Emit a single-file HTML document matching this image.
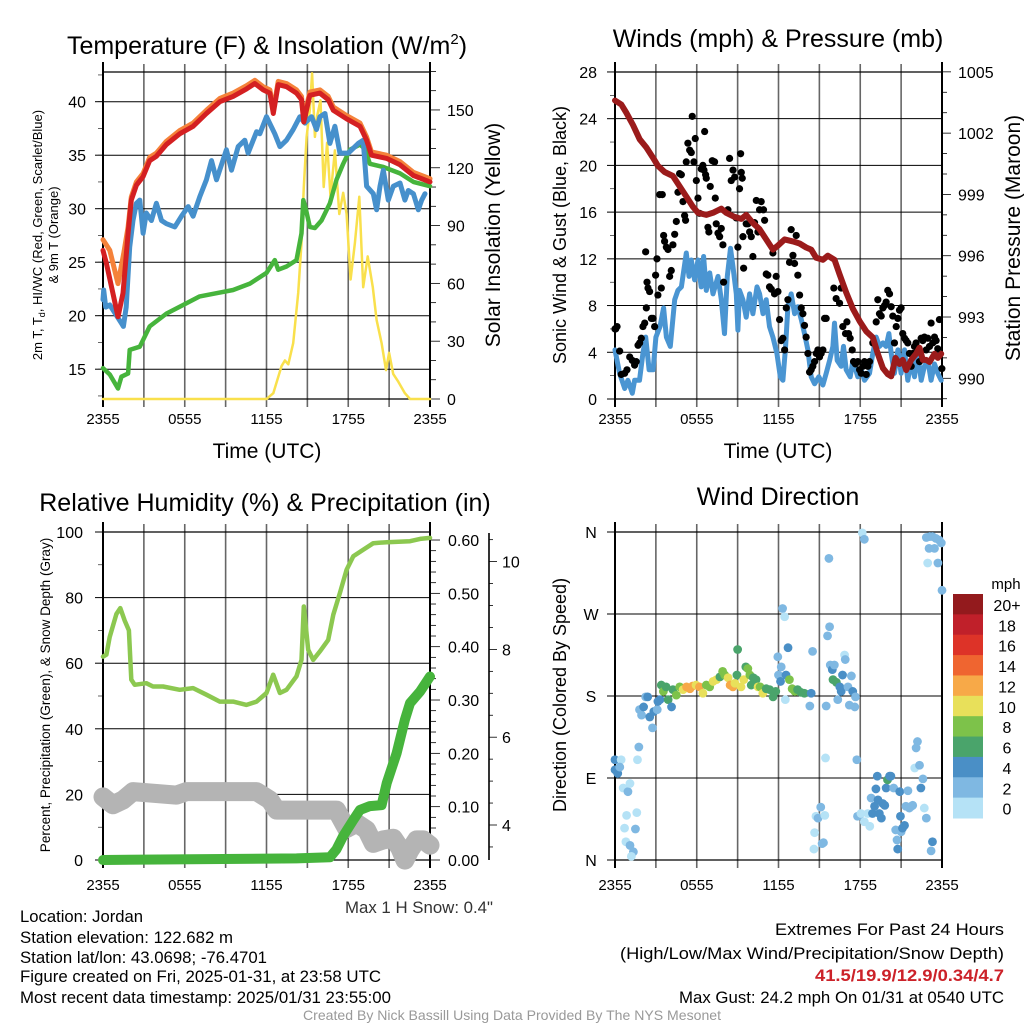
<!DOCTYPE html>
<html><head><meta charset="utf-8"><style>
html,body{margin:0;padding:0;background:#fff}
svg{display:block;font-family:"Liberation Sans",Arial,sans-serif}
</style></head><body>
<svg id="root" width="1024" height="1024" viewBox="0 0 1024 1024" xmlns="http://www.w3.org/2000/svg">
<rect width="1024" height="1024" fill="#fff"/>
<text x="267" y="54" font-size="25" text-anchor="middle">Temperature (F) &amp; Insolation (W/m<tspan font-size="15" dy="-10">2</tspan><tspan dy="10">)</tspan></text>
<text x="778" y="47" font-size="25" text-anchor="middle">Winds (mph) &amp; Pressure (mb)</text>
<text x="265" y="511" font-size="25" text-anchor="middle">Relative Humidity (%) &amp; Precipitation (in)</text>
<text x="778" y="505" font-size="25" text-anchor="middle">Wind Direction</text>
<text x="267" y="458" font-size="21" text-anchor="middle">Time (UTC)</text>
<text x="778" y="458" font-size="21" text-anchor="middle">Time (UTC)</text>
<text transform="translate(42,235) rotate(-90)" font-size="13" text-anchor="middle">2m T, T<tspan font-size="9" dy="3">d</tspan><tspan dy="-3">, HI/WC (Red, Green, Scarlet/Blue)</tspan></text>
<text transform="translate(58,235) rotate(-90)" font-size="13" text-anchor="middle">&amp; 9m T (Orange)</text>
<text transform="translate(500,235) rotate(-90)" font-size="21" text-anchor="middle">Solar Insolation (Yellow)</text>
<text transform="translate(566,235) rotate(-90)" font-size="18" text-anchor="middle">Sonic Wind &amp; Gust (Blue, Black)</text>
<text transform="translate(1020,238) rotate(-90)" font-size="21" text-anchor="middle">Station Pressure (Maroon)</text>
<text transform="translate(50,695) rotate(-90)" font-size="13.5" text-anchor="middle">Percent, Precipitation (Green), &amp; Snow Depth (Gray)</text>
<text transform="translate(566,695) rotate(-90)" font-size="18" text-anchor="middle">Direction (Colored By Speed)</text>
<g font-size="17">
<text x="345" y="913" textLength="148" lengthAdjust="spacingAndGlyphs" fill="#333">Max 1 H Snow: 0.4"</text>
<text x="20" y="922" textLength="123" lengthAdjust="spacingAndGlyphs">Location: Jordan</text>
<text x="20" y="943" textLength="213" lengthAdjust="spacingAndGlyphs">Station elevation: 122.682 m</text>
<text x="20" y="963" textLength="247" lengthAdjust="spacingAndGlyphs">Station lat/lon: 43.0698; -76.4701</text>
<text x="20" y="982" textLength="361" lengthAdjust="spacingAndGlyphs">Figure created on Fri, 2025-01-31, at 23:58 UTC</text>
<text x="20" y="1003" textLength="371" lengthAdjust="spacingAndGlyphs">Most recent data timestamp: 2025/01/31 23:55:00</text>
<text x="775" y="935" textLength="229" lengthAdjust="spacingAndGlyphs">Extremes For Past 24 Hours</text>
<text x="620" y="959" textLength="384" lengthAdjust="spacingAndGlyphs">(High/Low/Max Wind/Precipitation/Snow Depth)</text>
<text x="815" y="981" textLength="189" lengthAdjust="spacingAndGlyphs" fill="#cc2229" font-weight="bold">41.5/19.9/12.9/0.34/4.7</text>
<text x="679" y="1003" textLength="325" lengthAdjust="spacingAndGlyphs">Max Gust: 24.2 mph On 01/31 at 0540 UTC</text>
<text x="303" y="1020" font-size="14" textLength="418" lengthAdjust="spacingAndGlyphs" fill="#999">Created By Nick Bassill Using Data Provided By The NYS Mesonet</text>
</g>
<g id="layer"></g>
</svg>
<script>
// ---------- data ----------
const xTickLabels=["2355","0555","1155","1755","2355"];
const tempTicks=[15,20,25,30,35,40];
const solarTicks=[0,30,60,90,120,150];
const windTicks=[0,4,8,12,16,20,24,28];
const presTicks=[990,993,996,999,1002,1005];
const rhTicks=[0,20,40,60,80,100];
const precipTicks=[0.00,0.10,0.20,0.30,0.40,0.50,0.60];
const snowTicks=[4,6,8,10];
const dirTicks=["N","E","S","W","N"];
const dirTickDeg=[0,90,180,270,360];
const speedBins=["0","2","4","6","8","10","12","14","16","18","20+"];
const binColors=["#b5e2f6","#7fb8e2","#4a8fc6","#4aa46b","#7dc24a","#e8e05a","#f7a948","#ef6530","#dd3328","#c0202a","#931a1d"];

const redT=[0,0.25,0.73,1.1,1.47,1.84,2.08,2.45,2.94,3.43,3.92,4.65,5.63,6.61,7.59,8.57,9.55,10.53,11.14,11.76,12.25,12.5,12.86,13.47,14.2,14.57,14.74,15.18,15.92,16.53,16.9,17.88,18.86,19.35,19.71,20.82,21.8,22.78,24];
const redV=[26.1,24.9,22.1,19.9,22.1,27.7,30.8,32.2,33,34.5,34.9,36,37,37.7,38.9,40,40.5,41.2,41.7,41.1,40.8,38.9,41.6,41.4,40.8,40.2,38.1,40.6,40.8,40.2,39.2,38.4,37.7,36.4,35,34.7,34.1,33.1,32.5];
const orangeT=[0,0.5,1.1,1.52,1.84,2.08,2.45,2.94,3.43,3.92,4.65,5.63,6.61,7.59,8.57,9.55,10.53,11.14,11.76,12.25,12.5,12.86,13.47,14.2,14.57,14.74,15.18,15.92,16.53,16.9,17.88,18.86,19.35,19.71,20.82,21.8,22.78,24];
const orangeV=[27.1,26.1,23,25.8,28.3,31.1,32.5,33.3,34.8,35.2,36.3,37.3,38,39.2,40.3,40.8,41.5,42,41.4,41.1,39.2,41.9,41.7,41.1,40.5,38.4,40.9,41.1,40.5,39.5,38.7,38,36.7,35.3,35,34.4,33.4,32.8];
const blueT=[0,0.05,0.2,0.5,1.35,1.5,1.7,1.96,2.2,2.45,2.7,2.94,3.18,3.55,3.92,4.29,4.65,5.27,5.76,6.25,6.61,7.1,7.59,7.96,8.33,9.06,9.43,9.92,10.41,10.65,11.27,11.51,12,12.61,12.98,13.47,13.96,14.45,14.82,15.31,15.67,15.92,16.29,16.65,17.02,17.39,18,18.74,19.1,19.35,19.84,20.08,20.33,20.57,20.94,21.31,21.8,22.16,22.41,22.78,23.14,23.39,23.63];
const blueV=[21.5,22.4,20.8,21,19.3,19,20.8,26.4,28.9,30.5,30.8,27.7,29.6,28.9,30.5,28.9,28.6,28.3,29.3,30.2,29.3,31.1,32.7,34.5,32.7,35.5,33.6,35.8,36.4,35.2,37.2,37,38.6,37,35.8,36.4,37.4,38.6,38,38.6,37.4,38.6,38.9,36.1,37.7,35.2,35.2,36.1,36.4,32.1,31.4,29.9,32.1,33.6,30.8,32.1,32.4,30.8,31.7,31.4,29.9,30.8,31.4];
const greenT=[0,0.5,1.1,1.35,1.84,1.96,2.7,3.43,4.65,5.88,7.1,8.33,9.55,10.78,12,12.61,12.86,13.47,14.2,14.57,14.7,14.9,15.18,15.55,16.04,16.65,17.14,17.63,18.12,18.86,19.22,19.59,20.57,21.8,22.78,24];
const greenV=[15.1,14.5,13.2,14.3,14.6,16.8,17.1,19,20.2,21,21.8,22.1,22.4,23,24,25.2,24.3,24.6,25.2,27.7,30.8,29.9,28.3,28.2,28.9,30.5,32.7,34.2,35.5,36,35.6,34.2,33.9,33.3,32.5,32.1];
const solarT=[0,12,12.5,13.1,13.35,13.6,13.96,14.33,14.57,14.74,14.94,15.18,15.35,15.55,15.72,15.96,16.2,16.45,16.7,17.02,17.34,17.63,17.88,18.17,18.49,18.81,19.1,19.43,19.8,20.08,20.45,20.77,21.0,21.3,21.67,22.16,22.53,24];
const solarV=[0,0,3,17,20,18,29,55,81,110,136,150,169,136,147,155,110,133,105,129,96,107,96,62,81,105,58,74,58,41,29,15,24,13,9,3,0,0];

const windT=[0,0.34,0.71,0.95,1.27,1.44,1.8,2.05,2.25,2.5,2.8,3.0,3.3,3.57,3.77,4.06,4.38,4.62,4.87,5.23,5.43,5.6,5.84,6.09,6.33,6.5,6.7,6.95,7.19,7.56,7.8,8.04,8.24,8.48,8.66,8.9,9.02,9.14,9.39,9.63,9.88,10.12,10.42,10.61,10.86,11.1,11.34,11.59,11.88,12.13,12.32,12.52,12.69,12.93,13.18,13.42,13.67,13.91,14.16,14.4,14.65,14.96,15.26,15.5,15.75,15.99,16.11,16.31,16.6,16.77,16.97,17.26,17.46,17.82,18.07,18.31,18.68,18.92,19.17,19.41,19.66,19.9,20.1,20.27,20.51,20.76,21,21.25,21.49,21.74,21.98,22.22,22.47,22.71,22.96,23.2,23.45,23.69,23.94];
const windV=[4.2,2.2,0.9,1.6,0.5,1.6,1.6,3.9,5.3,2.5,2.5,5.3,6.2,7.8,5.3,4.5,8.5,9.3,9.6,12.5,10.5,11.9,10.2,11.9,9.6,12.2,9.3,10.8,9,10.5,8.5,5.6,10.5,12.9,11.3,9,5.9,9.3,8.5,7,9,7.3,9.6,9,7.3,8.5,6.2,5.3,3.9,1.9,1.6,4.5,7.9,9,7.3,7.9,6.8,5.6,4.2,1.9,1.3,1.9,1.2,2.2,3.3,4.5,6.5,3.3,2.8,4.5,2.5,1.9,3.3,1.9,2.5,1.6,2.2,3.9,5.3,4.5,4.8,4.5,5.6,3.9,2.2,4.2,2.2,4.2,1.6,3.3,1.9,3.9,1.6,2.8,3.3,1.6,3,2.2,1.6];

const gustT=[0,0.05,0.15,0.34,0.46,0.71,0.88,1.08,1.27,1.44,1.56,1.69,1.81,1.93,2.05,2.18,2.3,2.25,2.35,2.42,2.54,2.67,2.79,2.91,2.98,3.08,3.15,3.4,3.28,3.47,3.57,3.64,3.77,3.89,4.01,4.13,4.25,4.38,4.5,4.62,4.74,4.87,4.99,5.11,5.18,5.23,5.35,5.48,5.6,5.67,5.79,5.89,5.97,6.09,6.21,6.33,6.45,6.53,6.65,6.58,6.7,6.82,6.89,6.99,7.14,7.31,7.36,7.43,7.56,7.68,7.8,7.92,7.97,8.29,8.41,8.53,8.66,8.78,8.9,9.02,9.14,9.22,9.27,9.34,9.39,9.44,9.63,9.76,9.88,10.0,10.12,10.24,10.37,10.49,10.61,10.73,10.9,10.98,11.1,11.22,11.34,11.47,11.59,11.71,11.83,11.96,12.08,12.2,12.32,12.45,12.57,12.69,12.81,12.93,13.06,13.18,13.3,13.42,13.55,13.67,13.79,13.91,14.03,14.16,14.28,14.4,14.52,14.65,14.77,14.89,15.01,15.13,15.26,15.38,15.5,16.06,16.23,16.48,16.6,16.72,16.92,17.02,17.14,17.26,17.41,17.51,17.65,17.82,17.95,18.07,18.19,18.31,18.44,18.56,18.68,18.92,19.17,19.29,19.41,19.54,19.66,19.78,19.9,20.02,20.15,20.27,20.39,20.51,20.64,20.76,20.88,21.0,21.12,21.25,21.37,21.49,21.61,21.74,21.86,21.98,22.1,22.22,22.35,22.47,22.59,22.71,22.84,22.96,23.08,23.2,23.32,23.45,23.57,23.69,23.81,23.99];
const gustV=[6,6,6.2,4.1,2.1,2.2,2.5,3.6,3.3,2.9,3.2,4.6,4.8,5.2,6.2,6.5,7.8,12.6,10,9.5,9.2,6.9,6.9,6.2,10.6,12,8.9,9.5,17.5,17.5,14,13.5,13,12.8,10.5,11,13.2,14.1,15.2,17.7,19.3,19.2,16.9,15.7,15.3,20.3,21.9,21.3,21.1,24.2,20.3,22.3,18.7,17.2,15.9,19.7,20,19.6,19.2,22.9,18.9,14.7,14.3,18.2,20.4,20.3,17.2,15,14.2,13.9,14.6,13.2,10,16.2,20.6,18.7,19.6,19,15.5,13,18,21,19.4,18.9,13.9,11.2,15,15,14.3,13.9,12.2,15.1,17,14.3,16.2,16.9,16.2,15.3,10.7,10.6,9.6,9.4,12.5,9,10.5,9.2,6.8,5,5.2,4.2,7.8,8.5,11.7,14.5,12.3,11.6,14,10.6,8.9,7.8,7.3,6.3,5.3,3.9,2.3,2.5,2.8,3.2,3.9,4.2,3.6,3.9,4.2,6.9,6.9,9.5,8.6,8.2,9.5,6.2,5.6,6.6,5.6,5.2,4.2,3.2,3,3.2,2.5,2.2,2.8,3.2,2.1,2.8,3.2,4.8,6.6,8.5,7.3,7.1,7.8,8,8.3,9.3,9,7.9,7.1,4.8,6.2,6.9,7.6,7.8,5.6,5.2,5,4.8,3.9,2.8,3.9,4.5,4.8,4.2,3.2,5.2,5,5.3,4.2,5.2,4.5,6.5,4.8,5.3,5,4.3,6.8,2.6];

const presT=[0,0.46,0.83,1.32,1.81,2.3,2.79,3.15,3.64,4.25,4.74,5.23,5.72,6.09,6.7,7.19,7.8,8.16,8.78,9.27,9.63,10.12,10.61,11.1,11.59,11.96,12.45,13.06,13.55,14.03,14.4,14.77,15.26,15.62,16.11,16.48,16.97,17.46,17.95,18.44,18.92,19.29,19.66,20.02,20.27,20.59,20.88,21.12,21.37,21.74,22.1,22.35,22.59,22.84,23.08,23.45,23.69,23.94];
const presV=[1003.6,1003.4,1003.0,1002.4,1001.7,1001.3,1000.8,1000.4,1000.1,999.9,999.4,998.9,998.4,998.1,998.0,998.1,998.3,998.1,997.9,997.8,998.0,997.6,997.3,996.8,996.3,996.5,996.8,996.7,996.6,996.4,996.3,995.9,995.8,996.0,995.8,995.1,994.2,993.4,992.8,992.3,992.0,991.2,990.5,990.2,990.1,991.0,990.7,990.9,990.4,990.9,991.2,991.5,990.9,990.9,990.8,991.2,991.0,991.2];

const rhT=[0,0.25,0.49,0.98,1.27,1.59,1.9,2.08,2.33,3.18,3.67,4.41,5.63,6.61,7.59,8.57,9.55,10.53,11.27,12,12.49,12.98,13.47,14.2,14.57,14.74,15.06,15.43,15.92,16.53,16.9,17.39,17.88,18.37,19.1,19.84,20.82,22.53,23.27,24];
const rhV=[62,62.6,68,75,76.8,73,70,55,53.4,53.9,52.9,52.9,51.9,52.4,50.4,48.3,48.3,47.3,48.3,50.9,56.5,50.9,51.9,56,61,77.3,64.1,61,63.6,67.1,74.8,81.4,88.5,92.6,94.6,96.6,96.9,97.2,97.9,98.2];
const precipT=[0,14.2,16.65,17.14,17.63,18.37,18.86,19.59,20.45,20.82,21.55,22.16,22.53,23.27,24];
const precipV=[0,0.003,0.005,0.02,0.045,0.075,0.094,0.101,0.103,0.144,0.2,0.263,0.294,0.316,0.344];
const snowT=[0,0.73,1.47,2.2,5.39,6.12,11.27,12.25,12.74,17.14,17.88,18.61,19.35,19.84,20.57,21.31,21.8,22.16,22.53,23.02,23.51,24];
const snowV=[4.64,4.46,4.57,4.76,4.68,4.76,4.76,4.57,4.34,4.34,3.92,4.04,3.89,3.58,3.66,3.7,3.47,3.2,3.43,3.66,3.66,3.54];

const dirT=[0,0.45,0,0.2,0.35,0.6,0.95,1.1,0.85,0.7,0.8,1.1,1.35,1.2,1.5,1.6,1.75,1.65,1.8,1.95,2.1,2.25,2.4,2.55,2.75,2.85,3.1,3.15,3.3,3.4,3.55,3.75,3.9,4.15,4.25,4.5,4.75,5.0,5.25,5.5,5.7,5.95,6.2,6.45,6.7,6.95,7.2,7.45,7.7,7.9,8.05,8.3,8.45,8.65,8.8,8.95,9.0,9.25,9.45,9.6,9.75,9.9,10.0,10.15,10.35,10.5,10.65,10.85,11.1,11.35,11.6,11.8,11.95,12.0,12.15,12.2,12.3,12.45,12.5,12.55,12.7,12.8,13.0,13.2,13.4,13.65,13.9,14.3,14.4,14.5,14.6,14.65,14.75,14.9,15.1,15.2,15.3,15.4,15.45,15.5,15.6,15.7,15.75,15.8,15.95,16.0,16.1,16.25,16.35,16.5,16.6,16.7,16.85,16.9,17.1,17.2,17.35,17.45,17.6,17.65,17.75,17.8,17.95,18.05,18.15,18.3,18.3,18.55,18.7,18.8,18.9,19.05,19.15,19.25,19.3,19.4,19.55,19.65,19.8,19.9,20.0,20.15,20.25,20.45,20.6,20.7,20.75,20.9,20.95,21.0,21.1,21.25,21.35,21.5,21.6,21.75,21.85,22.0,22.1,22.2,22.35,22.45,22.6,22.7,22.85,22.95,23.05,23.2,23.3,22.85,23.1,23.3,23.45,23.55,23.7,23.8,23.95,24.0];
const dirDeg=[110,110,99,95,102,79,75,84,49,35,20,16,9,4,34,52,124,110,165,159,168,179,179,157,145,163,165,174,176,192,185,190,176,168,187,181,190,187,190,188,191,192,190,183,192,190,196,198,201,207,203,200,192,190,194,203,231,190,198,212,210,203,192,200,198,190,190,183,188,187,179,185,223,203,196,212,276,267,176,203,233,198,188,185,187,184,183,169,183,229,12,30,48,46,58,18,19,49,112,169,246,331,256,214,209,198,214,195,176,190,185,203,225,220,190,170,202,185,168,179,110,48,49,51,359,352,42,51,37,68,51,59,78,92,66,51,46,62,60,79,88,92,92,79,33,22,12,75,48,31,35,38,59,76,57,59,60,101,123,130,104,79,89,57,46,326,342,10,20,354,355,355,342,353,326,351,348,296];
const dirSpd=[5,1,5,5,3,1,3,1,1,1,1,3,3,1,3,1,3,1,3,3,5,3,5,5,3,5,3,5,5,7,9,7,7,5,7,9,9,11,13,13,13,11,13,11,9,9,11,11,7,9,9,11,13,13,11,7,7,11,11,7,9,9,7,7,7,11,9,11,7,7,7,7,3,3,5,3,3,1,1,5,5,9,9,9,7,7,7,3,5,3,1,1,1,3,3,3,3,1,1,3,3,3,3,3,5,7,3,7,3,5,5,5,1,3,3,3,3,5,3,3,3,3,3,1,1,3,1,1,1,3,5,5,5,5,5,5,5,5,5,5,7,5,5,3,3,3,5,5,5,3,5,5,3,3,3,3,3,1,3,3,3,5,3,1,3,1,3,3,5,3,3,3,3,3,3,3,3,3];

// ---------- drawing ----------
const NS="http://www.w3.org/2000/svg";
const layer=document.getElementById('layer');
function mk(tag,attrs,parent){const e=document.createElementNS(NS,tag);for(const k in attrs)e.setAttribute(k,attrs[k]);(parent||layer).appendChild(e);return e;}
function poly(ts,vs,xf,yf,color,w){
  const pts=ts.map((t,i)=>xf(t).toFixed(1)+","+yf(vs[i]).toFixed(1)).join(" ");
  return mk('polyline',{points:pts,fill:'none',stroke:color,'stroke-width':w,'stroke-linejoin':'round','stroke-linecap':'round'});
}
function txt(x,y,s,size,anchor){const e=mk('text',{x:x,y:y,'font-size':size,'text-anchor':anchor||'middle'});e.textContent=s;return e;}

const xL=t=>103+t*327/24, xR=t=>615+t*327/24;
const yTemp=v=>101.7-(v-40)*10.70, ySolar=v=>399-v*1.927;
const yWind=v=>399-v*11.68, yPres=v=>378.3-(v-990)*20.43;
const yRH=v=>860-v*3.28, yPrec=v=>860-v*533.3, ySnow=v=>825-(v-4)*43.9;
const yDir=v=>860-v*328/360;

function frame(x0,x1,y0,y1,hTicksY){
  for(let i=0;i<=8;i++){const x=x0+(x1-x0)*i/8;
    const g=mk('line',{x1:x,x2:x,y1:y0-8,y2:y1+8,stroke:'#666','stroke-width':1.6});
    
    }
  hTicksY.forEach(y=>{const g=mk('line',{x1:x0,x2:x1,y1:y,y2:y,stroke:'#000','stroke-width':1});
    
    });
  mk('line',{x1:x0,x2:x1,y1:y0,y2:y0,stroke:'#000','stroke-width':1.2});
  mk('line',{x1:x0,x2:x1,y1:y1,y2:y1,stroke:'#000','stroke-width':1.2});
  mk('line',{x1:x0,x2:x0,y1:y0-10,y2:y1+8,stroke:'#000','stroke-width':2});
  mk('line',{x1:x1,x2:x1,y1:y0-10,y2:y1+8,stroke:'#000','stroke-width':2});
}
function xLabels(x0,x1,y){xTickLabels.forEach((s,i)=>{const e=txt(x0+(x1-x0)*i/4,y,s,15);
  
  });}

// ---- Panel 1 ----
frame(103,430,72,399,tempTicks.map(yTemp).concat([ySolar(0)]));
tempTicks.forEach(v=>{mk('line',{x1:95,x2:103,y1:yTemp(v),y2:yTemp(v),stroke:'#000'});
  const e=txt(86,yTemp(v)+6,String(v),16,'end');
  
  });
for(let v=12.5;v<43;v+=2.5){mk('line',{x1:98,x2:103,y1:yTemp(v),y2:yTemp(v),stroke:'#000','stroke-width':0.6});}
for(let v=0;v<=170;v+=10){mk('line',{x1:430,x2:v%30?436:440,y1:ySolar(v),y2:ySolar(v),stroke:'#000','stroke-width':0.8});}
solarTicks.forEach(v=>{const e=txt(447,ySolar(v)+6,String(v),16,'start');
  
  });
xLabels(103,430,424);
let s;
s=poly(solarT,solarV,xL,ySolar,'#f9e04c',2.5);


s=poly(greenT,greenV,xL,yTemp,'#46b43c',4.5);


s=poly(orangeT,orangeV,xL,yTemp,'#f5823a',5);


s=poly(blueT,blueV,xL,yTemp,'#4690cc',5);


s=poly(redT,redV,xL,yTemp,'#d42022',5);



// ---- Panel 2 ----
frame(615,942,72,399,windTicks.map(yWind));
windTicks.forEach(v=>{mk('line',{x1:607,x2:615,y1:yWind(v),y2:yWind(v),stroke:'#000'});
  const e=txt(597,yWind(v)+6,String(v),16,'end');
  
  });
for(let v=2;v<28;v+=4){mk('line',{x1:610,x2:615,y1:yWind(v),y2:yWind(v),stroke:'#000','stroke-width':0.6});}
for(let v=989;v<=1005;v+=1){mk('line',{x1:942,x2:(v%3===0)?951:947,y1:yPres(v),y2:yPres(v),stroke:'#000','stroke-width':0.8});}
presTicks.forEach(v=>{const e=txt(958,yPres(v)+6,String(v),16,'start');
  
  });
xLabels(615,942,424);
s=poly(windT,windV,xR,yWind,'#4a95d2',5);


gustT.forEach((t,i)=>{const c=mk('circle',{cx:xR(t),cy:yWind(gustV[i]),r:3.6,fill:'#000'});
  
  });
s=poly(presT,presV,xR,yPres,'#9b1b1b',6);



// ---- Panel 3 ----
frame(103,430,532,860,rhTicks.map(yRH));
rhTicks.forEach(v=>{mk('line',{x1:95,x2:103,y1:yRH(v),y2:yRH(v),stroke:'#000'});
  const e=txt(83,yRH(v)+6,String(v),16,'end');
  
  });
for(let v=10;v<100;v+=20){mk('line',{x1:98,x2:103,y1:yRH(v),y2:yRH(v),stroke:'#000','stroke-width':0.6});}
for(let v=0;v<=60;v+=2){mk('line',{x1:430,x2:(v%10===0)?440:436,y1:yPrec(v/100),y2:yPrec(v/100),stroke:'#000','stroke-width':0.8});}
precipTicks.forEach(v=>{const e=txt(448,yPrec(v)+6,v.toFixed(2),16,'start');
  
  });
mk('line',{x1:489,x2:489,y1:533,y2:860,stroke:'#000','stroke-width':1.6});
for(let v=3.5;v<=10.6;v+=0.5){mk('line',{x1:489,x2:(v%2===0)?497:493,y1:ySnow(v),y2:ySnow(v),stroke:'#000','stroke-width':0.8});}
snowTicks.forEach(v=>{const e=txt(502,ySnow(v)+6,String(v),16,'start');
  
  });
xLabels(103,430,890);
s=poly(snowT,snowV,xL,ySnow,'#b4b4b4',19);


s=poly(rhT,rhV,xL,yRH,'#8cc850',4.5);


s=poly(precipT,precipV,xL,yPrec,'#46b43c',10);



// ---- Panel 4 ----
frame(615,942,532,860,dirTickDeg.map(yDir));
dirTickDeg.forEach((d,i)=>{mk('line',{x1:607,x2:615,y1:yDir(d),y2:yDir(d),stroke:'#000'});
  const e=txt(591,yDir(d)+6,dirTicks[i],16,'middle');
  
  });
xLabels(615,942,890);
function binColor(sp){let b=Math.floor(sp/2);if(b>10)b=10;if(b<0)b=0;return binColors[b];}
dirT.forEach((t,i)=>{const c=mk('circle',{cx:xR(t),cy:yDir(dirDeg[i]),r:4.4,fill:binColor(dirSpd[i])});
  
  });
const cbTop=594,cbH=224/11;
const mph=txt(1006,589,"mph",15);


speedBins.forEach((lab,i)=>{const k=10-i;
  const r=mk('rect',{x:953,y:cbTop+i*cbH,width:30,height:cbH+0.5,fill:binColors[k]});
  
  
  const e=txt(1007,cbTop+i*cbH+17,speedBins[k],16);
  
  });
</script>
</body></html>
